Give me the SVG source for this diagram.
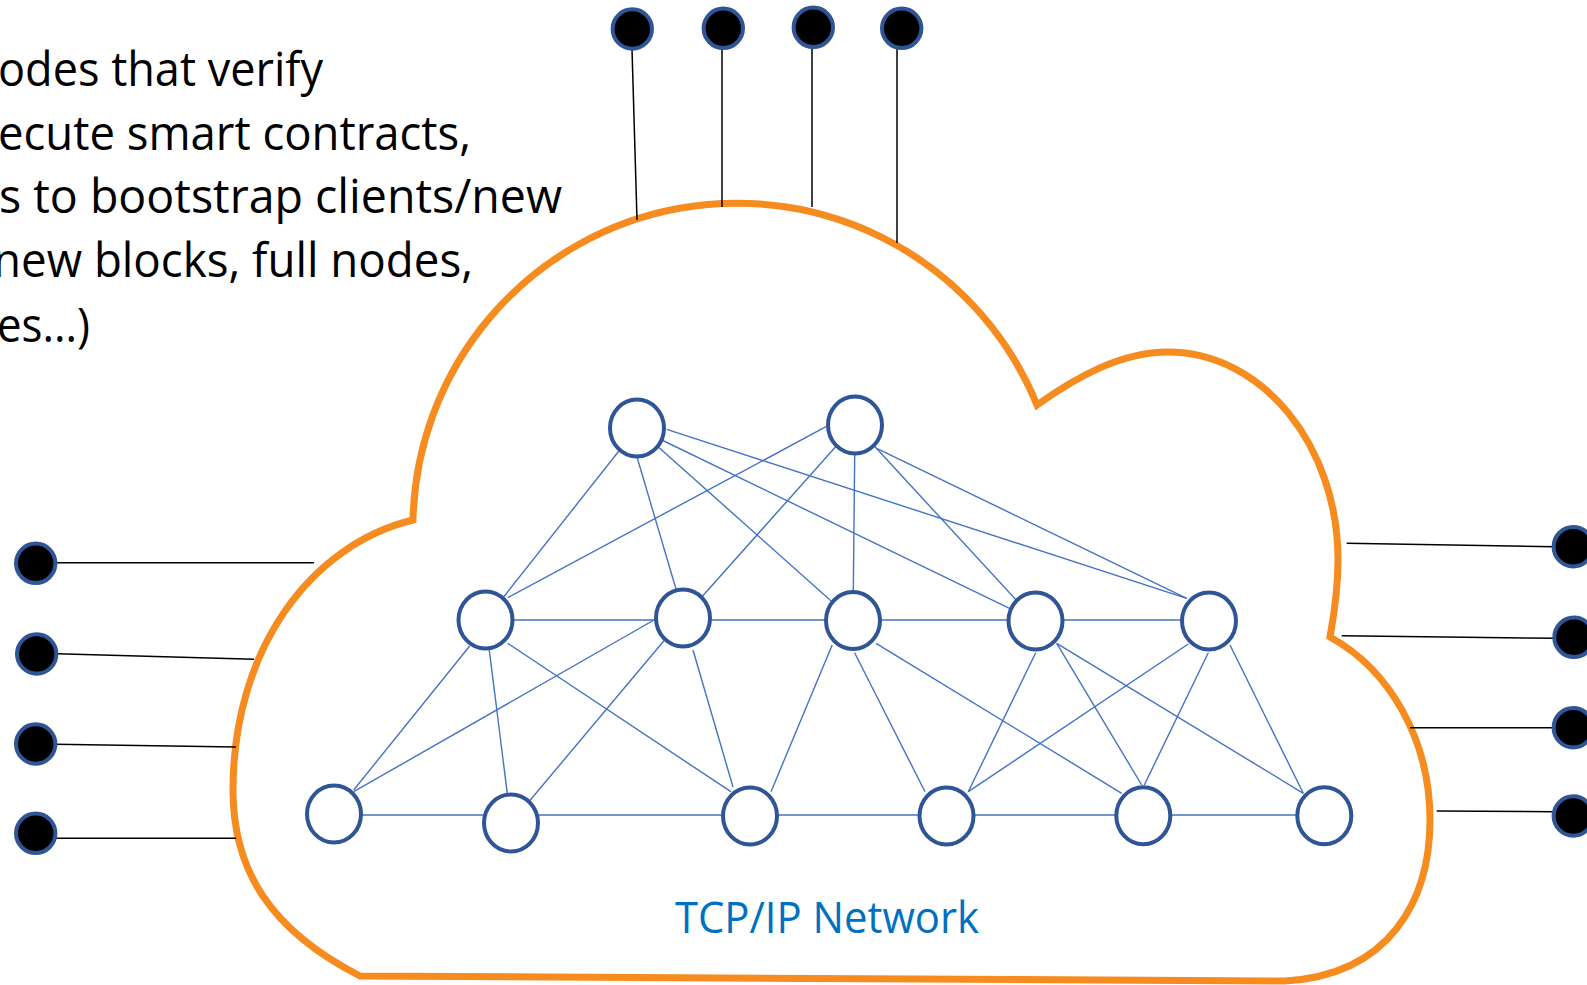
<svg xmlns="http://www.w3.org/2000/svg" width="1587" height="985" viewBox="0 0 1587 985">
<style>
.cloud{fill:#fff;stroke:#F68B1F;stroke-width:7;stroke-linejoin:miter;stroke-miterlimit:10}
.edge{stroke:#4472C4;stroke-width:1.4;fill:none}
.wire{stroke:#000;stroke-width:1.5;fill:none}
.peer{fill:#fff;stroke:#2F5597;stroke-width:4}
.ext{fill:#000;stroke:#2F5597;stroke-width:4}
.note{font-family:"Open Sans","Liberation Sans",sans-serif;font-size:47px;fill:#000}
.label{font-family:"Open Sans","Liberation Sans",sans-serif;font-size:43px;fill:#0070C0}
</style>
<path id="cloud" class="cloud" d="M413,520 A324,324 0 0 1 1037,405 C1075,378 1120,352 1168,352 C1262,352 1338,445 1338,560 C1338,590 1334,615 1330,637 C1390,670 1430,740 1430,820 C1430,900 1390,975 1285,981 L360,976 C270,930 233,870 233,790 C233,650 310,545 413,520 Z"/>
<g id="text-note">
<text class="note" x="-2" y="86" textLength="325" lengthAdjust="spacingAndGlyphs">odes that verify</text>
<text class="note" x="-2" y="150" textLength="473" lengthAdjust="spacingAndGlyphs">ecute smart contracts,</text>
<text class="note" x="-1" y="213" textLength="563" lengthAdjust="spacingAndGlyphs">s to bootstrap clients/new</text>
<text class="note" x="-7" y="277" textLength="480" lengthAdjust="spacingAndGlyphs">new blocks, full nodes,</text>
<text class="note" x="-3" y="342" textLength="93" lengthAdjust="spacingAndGlyphs">es...)</text>
</g>
<text id="network-label" class="label" x="675" y="933" textLength="304" lengthAdjust="spacingAndGlyphs">TCP/IP Network</text>
<g id="connectors">
<line class="wire" x1="632" y1="49" x2="637" y2="220"/>
<line class="wire" x1="722" y1="47" x2="722" y2="207"/>
<line class="wire" x1="812" y1="47" x2="812" y2="207"/>
<line class="wire" x1="897" y1="48" x2="897" y2="243"/>
<line class="wire" x1="55" y1="562.7" x2="314" y2="562.7"/>
<line class="wire" x1="57" y1="653.7" x2="254" y2="659.3"/>
<line class="wire" x1="55" y1="744.3" x2="236" y2="747"/>
<line class="wire" x1="53" y1="838.3" x2="236" y2="838.3"/>
<line class="wire" x1="1346.7" y1="543.3" x2="1554" y2="546.7"/>
<line class="wire" x1="1341.7" y1="635.7" x2="1554" y2="638.3"/>
<line class="wire" x1="1410" y1="727.7" x2="1554" y2="727.7"/>
<line class="wire" x1="1436.7" y1="811" x2="1554" y2="811.7"/>
<line class="edge" x1="637" y1="428" x2="485.5" y2="620"/>
<line class="edge" x1="637" y1="457" x2="676" y2="589"/>
<line class="edge" x1="637" y1="428" x2="853" y2="620.5"/>
<line class="edge" x1="637" y1="428" x2="1035.5" y2="621"/>
<line class="edge" x1="666.7" y1="429.3" x2="1186.7" y2="598.3"/>
<line class="edge" x1="826" y1="426.7" x2="507.7" y2="597.7"/>
<line class="edge" x1="855" y1="425" x2="683" y2="618"/>
<line class="edge" x1="855" y1="425" x2="853" y2="620.5"/>
<line class="edge" x1="855" y1="425" x2="1035.5" y2="621"/>
<line class="edge" x1="876.7" y1="448.3" x2="1186.7" y2="598.3"/>
<line class="edge" x1="485.5" y1="620" x2="1209" y2="620"/>
<line class="edge" x1="334" y1="815" x2="1324.3" y2="815"/>
<line class="edge" x1="469.7" y1="646" x2="353.7" y2="790"/>
<line class="edge" x1="485.5" y1="620" x2="511" y2="823"/>
<line class="edge" x1="507.7" y1="643.3" x2="730.9" y2="791.7"/>
<line class="edge" x1="654" y1="620" x2="353.7" y2="791.7"/>
<line class="edge" x1="683" y1="618" x2="511" y2="823"/>
<line class="edge" x1="693" y1="650" x2="733" y2="787"/>
<line class="edge" x1="832.2" y1="645" x2="771" y2="791.7"/>
<line class="edge" x1="854.6" y1="652.7" x2="925" y2="791.7"/>
<line class="edge" x1="876" y1="643.3" x2="1121.7" y2="793.3"/>
<line class="edge" x1="1035.7" y1="652.7" x2="968.3" y2="791.7"/>
<line class="edge" x1="1056.7" y1="643.3" x2="1141.7" y2="785"/>
<line class="edge" x1="1056.7" y1="643.3" x2="1303.3" y2="793.3"/>
<line class="edge" x1="1188.3" y1="644" x2="968.3" y2="791.7"/>
<line class="edge" x1="1208.3" y1="652.7" x2="1144.3" y2="785"/>
<line class="edge" x1="1230" y1="645" x2="1303.3" y2="793.3"/>
</g>
<g id="ext-top-1"><circle class="ext" cx="632.3" cy="29" r="19.7"/></g>
<g id="ext-top-2"><circle class="ext" cx="723.3" cy="28.3" r="19.7"/></g>
<g id="ext-top-3"><circle class="ext" cx="813.3" cy="27.3" r="19.7"/></g>
<g id="ext-top-4"><circle class="ext" cx="901.7" cy="28.3" r="19.7"/></g>
<g id="ext-left-1"><circle class="ext" cx="35.7" cy="563.3" r="19.7"/></g>
<g id="ext-left-2"><circle class="ext" cx="36.7" cy="654" r="19.7"/></g>
<g id="ext-left-3"><circle class="ext" cx="35.7" cy="744" r="19.7"/></g>
<g id="ext-left-4"><circle class="ext" cx="35.7" cy="833.3" r="19.7"/></g>
<g id="ext-right-1"><circle class="ext" cx="1573.3" cy="546.7" r="19.7"/></g>
<g id="ext-right-2"><circle class="ext" cx="1574" cy="637.3" r="19.7"/></g>
<g id="ext-right-3"><circle class="ext" cx="1573.3" cy="727.7" r="19.7"/></g>
<g id="ext-right-4"><circle class="ext" cx="1573.3" cy="816" r="19.7"/></g>
<g id="peer-t1"><ellipse class="peer" cx="637" cy="428" rx="27" ry="28.5"/></g>
<g id="peer-t2"><ellipse class="peer" cx="855" cy="425" rx="27" ry="28.5"/></g>
<g id="peer-m1"><ellipse class="peer" cx="485.5" cy="620" rx="27" ry="28.5"/></g>
<g id="peer-m2"><ellipse class="peer" cx="683" cy="618" rx="27" ry="28.5"/></g>
<g id="peer-m3"><ellipse class="peer" cx="853" cy="620.5" rx="27" ry="28.5"/></g>
<g id="peer-m4"><ellipse class="peer" cx="1035.5" cy="621" rx="27" ry="28.5"/></g>
<g id="peer-m5"><ellipse class="peer" cx="1209" cy="621" rx="27" ry="28.5"/></g>
<g id="peer-b1"><ellipse class="peer" cx="334" cy="814" rx="27" ry="28.5"/></g>
<g id="peer-b2"><ellipse class="peer" cx="511" cy="823" rx="27" ry="28.5"/></g>
<g id="peer-b3"><ellipse class="peer" cx="750" cy="816" rx="27" ry="28.5"/></g>
<g id="peer-b4"><ellipse class="peer" cx="946.5" cy="816" rx="27" ry="28.5"/></g>
<g id="peer-b5"><ellipse class="peer" cx="1143.3" cy="815.7" rx="27" ry="28.5"/></g>
<g id="peer-b6"><ellipse class="peer" cx="1324.3" cy="815.7" rx="27" ry="28.5"/></g>
</svg>
